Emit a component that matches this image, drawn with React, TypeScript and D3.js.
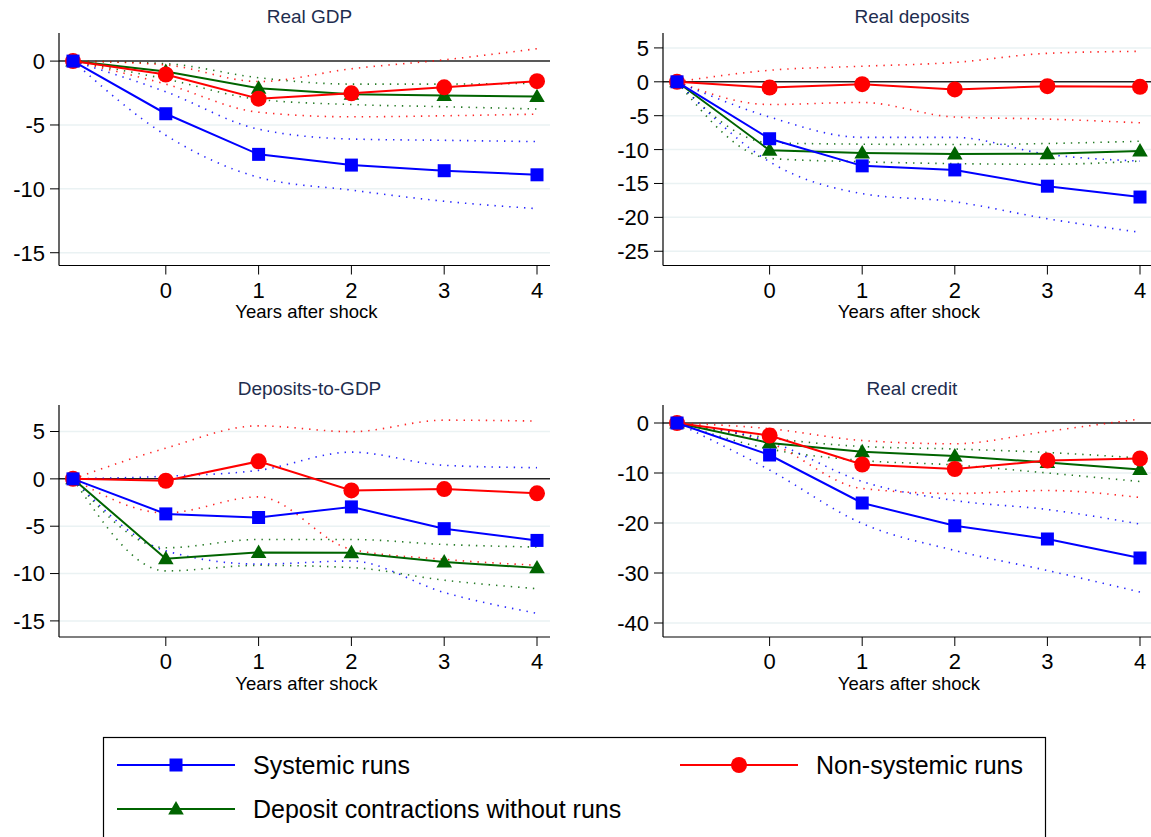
import React from "react";
import * as d3 from "d3";

const horizons = [-1, 0, 1, 2, 3, 4];
const xTickLabels = ["0", "1", "2", "3", "4"];
const xTickValues = [0, 1, 2, 3, 4];

// Real GDP
const gdpSys = [0, -4.12, -7.3, -8.14, -8.58, -8.9];
const gdpSysHi = [0, -2.4, -5.33, -6.1, -6.2, -6.3];
const gdpSysLo = [0, -5.8, -9.1, -10.1, -10.97, -11.55];
const gdpNon = [0, -1.05, -2.94, -2.52, -2.05, -1.57];
const gdpNonHi = [0, -0.3, -1.6, -0.6, 0.1, 0.97];
const gdpNonLo = [0, -1.8, -4.0, -4.36, -4.28, -4.15];
const gdpCon = [0, -0.81, -2.13, -2.6, -2.7, -2.78];
const gdpConHi = [0, -0.2, -1.3, -1.8, -1.8, -1.73];
const gdpConLo = [0, -1.4, -3.0, -3.4, -3.57, -3.75];

// Real deposits
const depSys = [0, -8.4, -12.4, -13.0, -15.4, -17.0];
const depSysHi = [0, -5.2, -8.2, -8.2, -10.7, -11.7];
const depSysLo = [0, -11.8, -16.5, -17.7, -20.2, -22.2];
const depNon = [0, -0.84, -0.35, -1.13, -0.64, -0.74];
const depNonHi = [0, 1.7, 2.3, 2.86, 4.2, 4.5];
const depNonLo = [0, -3.35, -3.05, -5.2, -5.5, -6.05];
const depCon = [0, -10.1, -10.5, -10.65, -10.6, -10.2];
const depConHi = [0, -9.0, -9.2, -9.26, -9.1, -8.77];
const depConLo = [0, -11.3, -11.8, -12.07, -12.17, -11.7];

// Deposits-to-GDP
const dtgSys = [0, -3.7, -4.08, -2.96, -5.26, -6.5];
const dtgSysHi = [0, 0.28, 0.9, 2.82, 1.43, 1.18];
const dtgSysLo = [0, -7.6, -9.0, -8.68, -12.0, -14.2];
const dtgNon = [0, -0.2, 1.85, -1.22, -1.08, -1.53];
const dtgNonHi = [0, 3.24, 5.6, 4.98, 6.2, 6.1];
const dtgNonLo = [0, -3.6, -1.9, -7.45, -8.5, -9.13];
const dtgCon = [0, -8.43, -7.77, -7.8, -8.78, -9.4];
const dtgConHi = [0, -7.28, -6.4, -6.4, -6.93, -7.2];
const dtgConLo = [0, -9.72, -9.13, -9.37, -10.7, -11.6];

// Real credit
const crdSys = [0, -6.4, -16.0, -20.56, -23.2, -27.0];
const crdSysHi = [0, -3.7, -11.7, -15.5, -17.3, -20.2];
const crdSysLo = [0, -9.4, -20.1, -25.5, -29.5, -33.8];
const crdNon = [0, -2.5, -8.3, -9.2, -7.5, -7.1];
const crdNonHi = [0, -1.14, -3.5, -4.15, -1.67, 0.8];
const crdNonLo = [0, -4.0, -13.1, -14.1, -13.5, -14.9];
const crdCon = [0, -4.0, -5.76, -6.6, -7.9, -9.3];
const crdConHi = [0, -3.0, -4.7, -5.2, -5.9, -7.0];
const crdConLo = [0, -5.2, -7.5, -8.4, -10.0, -11.7];

const gdpTicks = [0, -5, -10, -15];
const depTicks = [5, 0, -5, -10, -15, -20, -25];
const dtgTicks = [5, 0, -5, -10, -15];
const crdTicks = [0, -10, -20, -30, -40];

const seriesNames = ["Systemic runs", "Non-systemic runs", "Deposit contractions without runs"];
const seriesColors = ["#0000ff", "#ff0000", "#006400"];

type Panel = {
  title: string;
  ticks: number[];
  yDomain: [number, number];
  series: { mid: number[]; lo: number[]; hi: number[] }[];
  left: number;
  right: number;
  x0px: number;
  x4px: number;
  top: number;
  bottom: number;
};

const panels: Panel[] = [
  {
    title: "Real GDP",
    ticks: gdpTicks,
    yDomain: [2.2, -16.0],
    series: [
      { mid: gdpSys, lo: gdpSysLo, hi: gdpSysHi },
      { mid: gdpNon, lo: gdpNonLo, hi: gdpNonHi },
      { mid: gdpCon, lo: gdpConLo, hi: gdpConHi },
    ],
    left: 59, right: 550, x0px: 73, x4px: 537, top: 33, bottom: 265.5,
  },
  {
    title: "Real deposits",
    ticks: depTicks,
    yDomain: [7.2, -27.1],
    series: [
      { mid: depSys, lo: depSysLo, hi: depSysHi },
      { mid: depNon, lo: depNonLo, hi: depNonHi },
      { mid: depCon, lo: depConLo, hi: depConHi },
    ],
    left: 663, right: 1151, x0px: 677, x4px: 1140, top: 33, bottom: 265.5,
  },
  {
    title: "Deposits-to-GDP",
    ticks: dtgTicks,
    yDomain: [7.8, -16.7],
    series: [
      { mid: dtgSys, lo: dtgSysLo, hi: dtgSysHi },
      { mid: dtgNon, lo: dtgNonLo, hi: dtgNonHi },
      { mid: dtgCon, lo: dtgConLo, hi: dtgConHi },
    ],
    left: 59, right: 550, x0px: 73, x4px: 537, top: 405, bottom: 637,
  },
  {
    title: "Real credit",
    ticks: crdTicks,
    yDomain: [3.6, -42.8],
    series: [
      { mid: crdSys, lo: crdSysLo, hi: crdSysHi },
      { mid: crdNon, lo: crdNonLo, hi: crdNonHi },
      { mid: crdCon, lo: crdConLo, hi: crdConHi },
    ],
    left: 663, right: 1151, x0px: 677, x4px: 1140, top: 405, bottom: 637,
  },
];

const FONT = "'Liberation Sans', Arial, sans-serif";

function Marker({ kind, x, y, color }: { kind: number; x: number; y: number; color: string }) {
  if (kind === 0) return <rect x={x - 6.5} y={y - 6.5} width={13} height={13} fill={color} />;
  if (kind === 1) return <circle cx={x} cy={y} r={8} fill={color} />;
  const sym = d3.symbol().type(d3.symbolTriangle).size(105)();
  return <path d={sym || ""} transform={`translate(${x},${y + 1})`} fill={color} />;
}

function PanelView({ p }: { p: Panel }) {
  const x = d3.scaleLinear().domain([-1, 4]).range([p.x0px, p.x4px]);
  const y = d3.scaleLinear().domain(p.yDomain).range([p.top, p.bottom]);
  const lineStraight = d3.line<number>().x((_, i) => x(horizons[i])).y((v) => y(v));
  const lineCurve = d3
    .line<number>()
    .x((_, i) => x(horizons[i]))
    .y((v) => y(v))
    .curve(d3.curveMonotoneX);
  const cx = (p.left + p.right) / 2 + 2;
  const order = [2, 1, 0];
  return (
    <g>
      <text x={cx + 3} y={p.top - 10} textAnchor="middle" fontSize={19} fill="#1e2d4f" fontFamily={FONT}>
        {p.title}
      </text>
      {p.ticks.map((t) =>
        t === 0 ? null : (
          <line key={"g" + t} x1={p.left} x2={p.right} y1={y(t)} y2={y(t)} stroke="#eaf2f3" strokeWidth={1.5} />
        )
      )}
      <line x1={p.left} x2={p.right} y1={y(0)} y2={y(0)} stroke="#222" strokeWidth={1.5} />
      {order.map((si) => (
        <g key={"b" + si}>
          {[p.series[si].hi, p.series[si].lo].map((arr, k) => (
            <path
              key={k}
              d={lineCurve(arr) || ""}
              fill="none"
              stroke={seriesColors[si]}
              strokeWidth={1.6}
              strokeDasharray="1.4 6"
              opacity={0.85}
            />
          ))}
        </g>
      ))}
      {order.map((si) => (
        <g key={"m" + si}>
          <path d={lineStraight(p.series[si].mid) || ""} fill="none" stroke={seriesColors[si]} strokeWidth={2} />
          {p.series[si].mid.map((v, i) => (
            <Marker key={i} kind={si} x={x(horizons[i])} y={y(v)} color={seriesColors[si]} />
          ))}
        </g>
      ))}
      <line x1={p.left} x2={p.left} y1={p.top} y2={p.bottom} stroke="#000" strokeWidth={1.2} />
      <line x1={p.left} x2={p.right} y1={p.bottom} y2={p.bottom} stroke="#000" strokeWidth={1.2} />
      {p.ticks.map((t) => (
        <g key={"t" + t}>
          <line x1={p.left - 9} x2={p.left} y1={y(t)} y2={y(t)} stroke="#000" strokeWidth={1} />
          <text
            x={p.left - 14}
            y={y(t)}
            dy="0.36em"
            textAnchor="end"
            fontSize={22}
            fill="#000"
            fontFamily={FONT}
          >
            {t}
          </text>
        </g>
      ))}
      {xTickValues.map((t, i) => (
        <g key={"x" + t}>
          <line x1={x(t)} x2={x(t)} y1={p.bottom} y2={p.bottom + 9} stroke="#000" strokeWidth={1} />
          <text x={x(t)} y={p.bottom + 32} textAnchor="middle" fontSize={22} fill="#000" fontFamily={FONT}>
            {xTickLabels[i]}
          </text>
        </g>
      ))}
      <text x={cx} y={p.bottom + 52.5} textAnchor="middle" fontSize={18.5} fill="#000" fontFamily={FONT}>
        Years after shock
      </text>
    </g>
  );
}

function Legend() {
  const items = [
    { i: 0, lx: 117, ly: 765 },
    { i: 1, lx: 680, ly: 765 },
    { i: 2, lx: 117, ly: 809 },
  ];
  return (
    <g>
      <rect x={103.5} y={737.5} width={942} height={120} fill="#fff" stroke="#000" strokeWidth={1.2} />
      {items.map((it) => (
        <g key={it.i}>
          <line x1={it.lx} x2={it.lx + 118} y1={it.ly} y2={it.ly} stroke={seriesColors[it.i]} strokeWidth={2} />
          <Marker kind={it.i} x={it.lx + 59} y={it.ly} color={seriesColors[it.i]} />
          <text x={it.lx + 136} y={it.ly + 8.5} fontSize={25} fill="#000" fontFamily={FONT}>
            {seriesNames[it.i]}
          </text>
        </g>
      ))}
    </g>
  );
}

export default function App() {
  return (
    <svg
      width={1151}
      height={837}
      style={{ position: "absolute", left: 0, top: 0, background: "#fff" }}
      xmlns="http://www.w3.org/2000/svg"
    >
      <rect x={0} y={0} width={1151} height={837} fill="#fff" />
      {panels.map((p) => (
        <PanelView key={p.title} p={p} />
      ))}
      <Legend />
    </svg>
  );
}
